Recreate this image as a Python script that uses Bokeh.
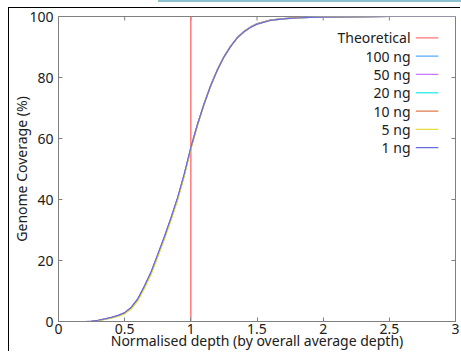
from math import pi
from bokeh.plotting import figure
from bokeh.models import Range1d, FixedTicker, Div
from bokeh.layouts import column
from bokeh.embed import file_html
from bokeh.resources import INLINE
from bokeh.core.properties import value

# ---------------- data ----------------
depth = [0.2, 0.25, 0.3, 0.35, 0.4, 0.45, 0.5, 0.55, 0.6, 0.65, 0.7, 0.75, 0.8, 0.85,
         0.9, 0.95, 1.0, 1.05, 1.1, 1.15, 1.2, 1.25, 1.3, 1.35, 1.4, 1.45, 1.5, 1.6,
         1.7, 1.8, 1.9, 2.0, 2.2, 2.5, 3.0]

cov_100ng = [0, 0.09, 0.37, 0.8, 1.3, 1.95, 2.85, 4.6, 7.4, 11.6, 16.2, 21.9, 27.7, 33.9,
             40.5, 48.2, 56.9, 64.5, 71.2, 77.3, 82.4, 86.7, 90.1, 92.9, 94.9, 96.4, 97.5, 98.7,
             99.2, 99.5, 99.7, 99.8, 99.9, 100, 100]
cov_50ng = [0, 0.09, 0.38, 0.8, 1.3, 1.9, 2.8, 4.5, 7.3, 11.5, 16.1, 21.8, 27.6, 33.8,
            40.4, 48.1, 56.9, 64.6, 71.4, 77.5, 82.6, 86.9, 90.3, 93.1, 95.1, 96.6, 97.7, 98.8,
            99.3, 99.6, 99.7, 99.8, 99.9, 100, 100]
cov_20ng = [0, 0.07, 0.33, 0.7, 1.2, 1.8, 2.6, 4.3, 7.0, 11.1, 15.7, 21.4, 27.2, 33.4,
            40.0, 47.8, 56.7, 64.4, 71.2, 77.3, 82.4, 86.8, 90.2, 93.0, 95.0, 96.5, 97.6, 98.8,
            99.3, 99.6, 99.7, 99.8, 99.9, 100, 100]
cov_10ng = [0, 0.08, 0.35, 0.75, 1.25, 1.85, 2.7, 4.4, 7.2, 11.3, 15.9, 21.6, 27.4, 33.6,
            40.2, 48.0, 56.8, 64.5, 71.3, 77.4, 82.5, 86.8, 90.2, 93.0, 95.0, 96.5, 97.6, 98.8,
            99.3, 99.6, 99.7, 99.8, 99.9, 100, 100]
cov_5ng = [0, 0.05, 0.3, 0.65, 1.1, 1.7, 2.5, 4.1, 6.8, 10.9, 15.5, 21.2, 27.0, 33.2,
           39.9, 47.6, 56.5, 64.3, 71.1, 77.2, 82.3, 86.7, 90.1, 92.9, 94.9, 96.4, 97.5, 98.7,
           99.2, 99.5, 99.7, 99.8, 99.9, 100, 100]
cov_1ng = [0, 0.1, 0.4, 0.85, 1.35, 2.0, 2.9, 4.7, 7.5, 11.7, 16.3, 22.0, 27.8, 34.0,
           40.6, 48.3, 57.0, 64.6, 71.3, 77.3, 82.4, 86.7, 90.1, 92.9, 94.9, 96.4, 97.5, 98.7,
           99.2, 99.5, 99.7, 99.8, 99.9, 100, 100]

theoretical_x = [1, 1]
theoretical_y = [0, 100]

series_names = ["Theoretical", "100 ng", "50 ng", "20 ng", "10 ng", "5 ng", "1 ng"]
series_colors = ["#ff7070", "#55aaff", "#cc77ff", "#44eeee", "#e07a4a", "#e8e040", "#6a6ae0"]
series_values = [cov_100ng, cov_50ng, cov_20ng, cov_10ng, cov_5ng, cov_1ng]

x_ticks = [0, 0.5, 1, 1.5, 2, 2.5, 3]
y_ticks = [0, 20, 40, 60, 80, 100]

FONT = "Noto Sans"
GRAY = "#808080"
TXT = "#202020"

p = figure(width=452, height=344, x_range=Range1d(0, 3), y_range=Range1d(0, 100),
           output_backend="svg", toolbar_location=None,
           min_border_left=49, min_border_right=6, min_border_top=8, min_border_bottom=30,
           x_axis_label="Normalised depth (by overall average depth)",
           y_axis_label="Genome Coverage (%)")
p.grid.visible = False
p.outline_line_color = GRAY
p.background_fill_color = "white"
p.border_fill_color = "white"

for ax in (p.xaxis[0], p.yaxis[0]):
    ax.axis_line_color = GRAY
    ax.major_tick_line_color = GRAY
    ax.major_tick_in = 4
    ax.major_tick_out = 0
    ax.minor_tick_line_color = None
    ax.major_label_text_font = FONT
    ax.major_label_text_font_size = "14px"
    ax.major_label_text_color = TXT
    ax.axis_label_text_font = FONT
    ax.axis_label_text_font_size = "14px"
    ax.axis_label_text_font_style = "normal"
    ax.axis_label_text_color = TXT
p.xaxis[0].ticker = FixedTicker(ticks=x_ticks)
p.yaxis[0].ticker = FixedTicker(ticks=y_ticks)
p.xaxis[0].major_label_standoff = 2
p.xaxis[0].axis_label_standoff = -6
p.yaxis[0].major_label_standoff = 5
p.yaxis[0].axis_label_standoff = -5

# mirrored ticks on the top and right edges of the frame
p.ray(x=x_ticks, y=[100] * len(x_ticks), length=4, angle=-pi / 2, length_units="screen",
      line_color=GRAY, line_width=1)
p.ray(x=[3] * len(y_ticks), y=y_ticks, length=4, angle=pi, length_units="screen",
      line_color=GRAY, line_width=1)

# curves
p.line(theoretical_x, theoretical_y, line_color=series_colors[0], line_width=1.4)
for vals, col in zip(series_values, series_colors[1:]):
    p.line(depth, vals, line_color=col, line_width=1.2)

# key (gnuplot style: label then sample line)
key_x_text = 2.66
key_x0, key_x1 = 2.70, 2.87
key_y = [93, 87, 81, 75, 69, 63, 57]
p.text(x=[key_x_text] * len(series_names), y=key_y, text=series_names,
       text_align="right", text_baseline="middle", text_font=value(FONT),
       text_font_size="14px", text_color=TXT)
p.segment(x0=[key_x0] * len(series_names), x1=[key_x1] * len(series_names),
          y0=key_y, y1=key_y, line_color=series_colors, line_width=1.3)

p.margin = (5, 0, 0, 8)
p.styles = {"border-top": "1px solid #000", "border-left": "1px solid #000"}

teal = Div(text="&nbsp;", width=303, height=2, margin=(0, 0, 0, 158),
           styles={"background-color": "#8cc2cf", "font-size": "1px", "line-height": "1px",
                   "overflow": "hidden"})

layout = column(teal, p, spacing=0, margin=0)
open("out.html", "w").write(file_html(layout, INLINE))
